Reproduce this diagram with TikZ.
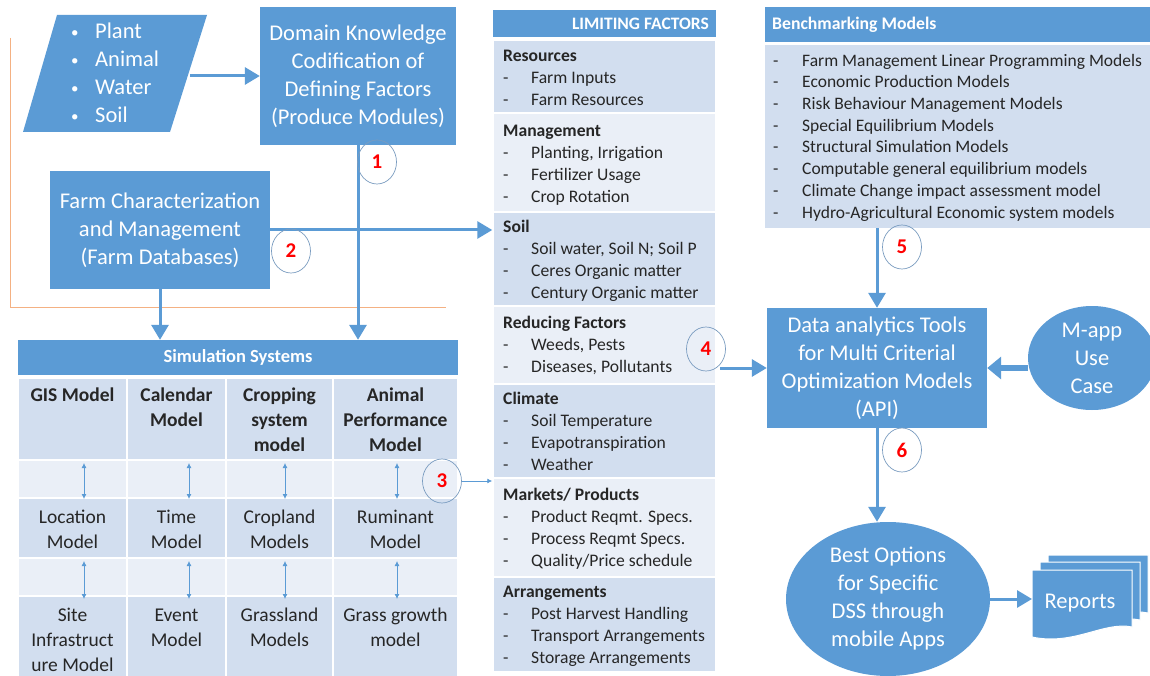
\documentclass[tikz,border=0pt]{standalone}
\usepackage{fontspec}
\setmainfont{Carlito}
\usetikzlibrary{arrows.meta,shapes.geometric}
\definecolor{blu}{HTML}{5B9BD5}
\definecolor{dk}{HTML}{D2DEEF}
\definecolor{lt}{HTML}{EAEFF7}
\definecolor{txt}{HTML}{262626}
\definecolor{orng}{HTML}{F4B183}
\definecolor{ring}{HTML}{7A9CC0}
\newcommand\fBig{\fontsize{22.5}{28}\selectfont}
\newcommand\fCell{\fontsize{19.5}{25}\selectfont}
\newcommand\fList{\fontsize{17.6}{22}\selectfont}
\newcommand\fBench{\fontsize{17.5}{21.7}\selectfont}
\newcommand\fHead{\fontsize{18.5}{20}\selectfont\bfseries}
\newcommand\fNum{\fontsize{21}{24}\selectfont\bfseries}
\newcommand\lfdash{\makebox[28pt][l]{-}}
\newcommand\bmdash{\makebox[29pt][l]{-}}
\newcommand\strA{\rule{0pt}{14pt}}
\newcommand\strB{\rule{0pt}{13pt}}
\newcommand\blt{\makebox[24pt][l]{\raisebox{1pt}{\fontsize{15}{15}\selectfont•}}}
\begin{document}
\begin{tikzpicture}[x=1pt,y=-1pt,
  box/.style={rectangle, fill=blu, text=white, align=center, inner sep=0, font=\fBig},
  arr/.style={draw=blu, line width=3pt, -{Triangle[length=15pt,width=17pt]}},
  tarr/.style={draw=blu, line width=0.8pt, {Latex[length=5pt,width=5pt]}-{Latex[length=5pt,width=5pt]}},
  sarr/.style={draw=blu, line width=0.8pt, -{Latex[length=5pt,width=5pt]}},
  numc/.style={ellipse, draw=ring, line width=0.7pt, minimum width=39pt, minimum height=44pt, inner sep=0, text=red, font=\fNum},
  cellt/.style={anchor=north, align=center, inner sep=0, font=\fCell, text=txt},
  lst/.style={anchor=north west, align=left, inner sep=0, font=\fList, text=txt},
  sec/.style={rectangle, minimum width=223pt, draw=white, line width=1.5pt, inner sep=0},
  hdr/.style={rectangle, fill=blu, inner sep=0},
  hdrt/.style={text=white, font=\fHead, inner sep=0}]
\fill[white] (0,0) rectangle (1150,676);
\useasboundingbox (0,0) rectangle (1150,676);

% orange guide lines
\draw[orng, line width=0.8pt] (10,38) -- (10,307) -- (446,307);

% inputs parallelogram
\fill[blu] (57,15) -- (207,15) -- (170,132) -- (23,132) -- cycle;
\node[anchor=west, align=left, text=white, font=\fBig, inner sep=0] (inputs) at (71,73)
  {\blt Plant\\\blt Animal\\\blt Water\\\blt Soil};
\coordinate (inpE) at (190,76);

% domain box
\node[box, minimum width=196pt, minimum height=138pt] (domain) at (358,76)
  {Domain Knowledge\\Codification of\\Defining Factors\\(Produce Modules)};
\draw[arr] (inpE) -- (domain.west);

% farm box
\node[box, minimum width=220pt, minimum height=118pt] (farm) at (160,230)
  {Farm Characterization\\and Management\\(Farm Databases)};

% simulation systems table
\node[hdr, minimum width=440pt, minimum height=35pt] (simhead) at (238,357.5) {};
\node[hdrt] (simtitle) at (238,357.5) {Simulation Systems};
\foreach \xa/\xb in {18/127,127/226,226/333,333/458} {
  \foreach \ya/\yb/\c in {378/460/dk,460/498/lt,498/558/dk,558/596/lt,596/680/dk}
    \filldraw[fill=\c, draw=white, line width=1.5pt] (\xa,\ya) rectangle (\xb,\yb);
}
\node[cellt, font=\fCell\bfseries] (gis) at (72.5,387) {\strA GIS Model};
\node[cellt, font=\fCell\bfseries] (cal) at (176.5,387) {\strA Calendar\\Model};
\node[cellt, font=\fCell\bfseries] (crop) at (279.5,387) {\strA Cropping\\system\\model};
\node[cellt, font=\fCell\bfseries] (anim) at (395.5,387) {\strA Animal\\Performance\\Model};
\node[cellt] (loc) at (72.5,509) {\strA Location\\Model};
\node[cellt] (time) at (176.5,509) {\strA Time\\Model};
\node[cellt] (cropl) at (279.5,509) {\strA Cropland\\Models};
\node[cellt] (rum) at (395.5,509) {\strA Ruminant\\Model};
\node[cellt] (site) at (72.5,607) {\strA Site\\Infrastruct\\ure Model};
\node[cellt] (event) at (176.5,607) {\strA Event\\Model};
\node[cellt] (grass) at (279.5,607) {\strA Grassland\\Models};
\node[cellt] (ggm) at (395.5,607) {\strA Grass growth\\model};
\foreach \x in {84,189,285,397} {
  \draw[tarr] (\x,463) -- (\x,499);
  \draw[tarr] (\x,561) -- (\x,599);
}

% arrows into simulation systems
\draw[arr] (domain.south) -- (domain.south |- simhead.north);
\draw[arr] (farm.south) -- (farm.south |- simhead.north);

% limiting factors
\node[hdr, minimum width=223pt, minimum height=27pt] (lfhead) at (604.5,23.5) {};
\node[hdrt, anchor=east, font=\fontsize{17.5}{18}\selectfont\bfseries] (lftitle) at (709,23.5) {LIMITING FACTORS};
\node[sec, fill=dk, minimum height=73pt] (res) at (604.5,76.5) {};
\node[sec, fill=lt, minimum height=99pt] (mgmt) at (604.5,162.5) {};
\node[sec, fill=dk, minimum height=94pt] (soil) at (604.5,259) {};
\node[sec, fill=lt, minimum height=78pt] (redf) at (604.5,345) {};
\node[sec, fill=dk, minimum height=94pt] (clim) at (604.5,431) {};
\node[sec, fill=lt, minimum height=99pt] (mkt) at (604.5,527.5) {};
\node[sec, fill=dk, minimum height=95pt] (arrg) at (604.5,624.5) {};
\node[lst] (resT) at (503,48) {\strB\textbf{Resources}\\\lfdash Farm Inputs\\\lfdash Farm Resources};
\node[lst] (mgmtT) at (503,123) {\strB\textbf{Management}\\\lfdash Planting, Irrigation\\\lfdash Fertilizer Usage\\\lfdash Crop Rotation};
\node[lst] (soilT) at (503,219) {\strB\textbf{Soil}\\\lfdash Soil water, Soil N; Soil P\\\lfdash Ceres Organic matter\\\lfdash Century Organic matter};
\node[lst] (redT) at (503,315) {\strB\textbf{Reducing Factors}\\\lfdash Weeds, Pests\\\lfdash Diseases, Pollutants};
\node[lst] (climT) at (503,391) {\strB\textbf{Climate}\\\lfdash Soil Temperature\\\lfdash Evapotranspiration\\\lfdash Weather};
\node[lst] (mktT) at (503,487) {\strB\textbf{Markets/ Products}\\\lfdash Product Reqmt. Specs.\\\lfdash Process Reqmt Specs.\\\lfdash Quality/Price schedule};
\node[lst] (arrgT) at (503,584) {\strB\textbf{Arrangements}\\\lfdash Post Harvest Handling\\\lfdash Transport Arrangements\\\lfdash Storage Arrangements};

% farm -> soil
\draw[arr] (farm.east) -- (farm.east -| soil.west);

% benchmarking
\node[hdr, minimum width=385pt, minimum height=35pt] (bhead) at (957.5,24.5) {};
\node[hdrt, anchor=west, font=\fontsize{17.7}{20}\selectfont\bfseries] (btitle) at (772,24.5) {Benchmarking Models};
\node[rectangle, fill=dk, minimum width=385pt, minimum height=183pt, inner sep=0] (bbody) at (957.5,136.5) {};
\node[lst, font=\fBench] (bT) at (773,53) {\strB\bmdash Farm Management Linear Programming Models\\\bmdash Economic Production Models\\\bmdash Risk Behaviour Management Models\\\bmdash Special Equilibrium Models\\\bmdash Structural Simulation Models\\\bmdash Computable general equilibrium models\\\bmdash Climate Change impact assessment model\\\bmdash Hydro-Agricultural Economic system models};

% data analytics
\node[box, minimum width=220pt, minimum height=120pt] (data) at (877,368)
  {Data analytics Tools\\for Multi Criterial\\Optimization Models\\(API)};
\node[ellipse, fill=blu, minimum width=128pt, minimum height=104pt, inner sep=0, text=white, font=\fBig, align=center] (mapp) at (1092,358) {M-app\\Use\\Case};
\node[ellipse, fill=blu, minimum width=204pt, minimum height=154pt, inner sep=0, text=white, font=\fBig, align=center] (best) at (888,599) {Best Options\\for Specific\\DSS through\\mobile Apps};

% reports
\filldraw[fill=blu, draw=white, line width=1pt] (1048,555) -- (1148,555) -- (1148,613) .. controls (1120,607) and (1090,630) .. (1048,622) -- cycle;
\filldraw[fill=blu, draw=white, line width=1pt] (1040,562) -- (1140,562) -- (1140,620) .. controls (1112,614) and (1082,637) .. (1040,629) -- cycle;
\filldraw[fill=blu, draw=white, line width=1pt] (1032,570) -- (1132,570) -- (1132,627) .. controls (1104,621) and (1074,646) .. (1032,637) -- cycle;
\node[text=white, font=\fBig, inner sep=0] (reports) at (1080,603) {Reports};
\coordinate (repW) at (1032,599);

% circles
\node[numc] (c1) at (377,162) {1};
\node[numc] (c2) at (291,251) {2};
\node[numc] (c3) at (442,481) {3};
\node[numc] (c4) at (706,349) {4};
\node[numc] (c5) at (902,247) {5};
\node[numc] (c6) at (902,450) {6};

% connectors
\draw[sarr] (c3.east) -- (c3.east -| mkt.west);
\draw[arr] (data.west -| c4.south east) -- (data.west);
\draw[arr] (bbody.south -| data.north) -- (data.north);
\draw[draw=blu, line width=6pt, -{Triangle[length=14pt,width=22pt]}] (data.east -| mapp.west) -- (data.east);
\draw[arr] (data.south) -- (data.south |- best.north);
\draw[arr] (best.east |- repW) -- (repW);
\end{tikzpicture}
\end{document}
